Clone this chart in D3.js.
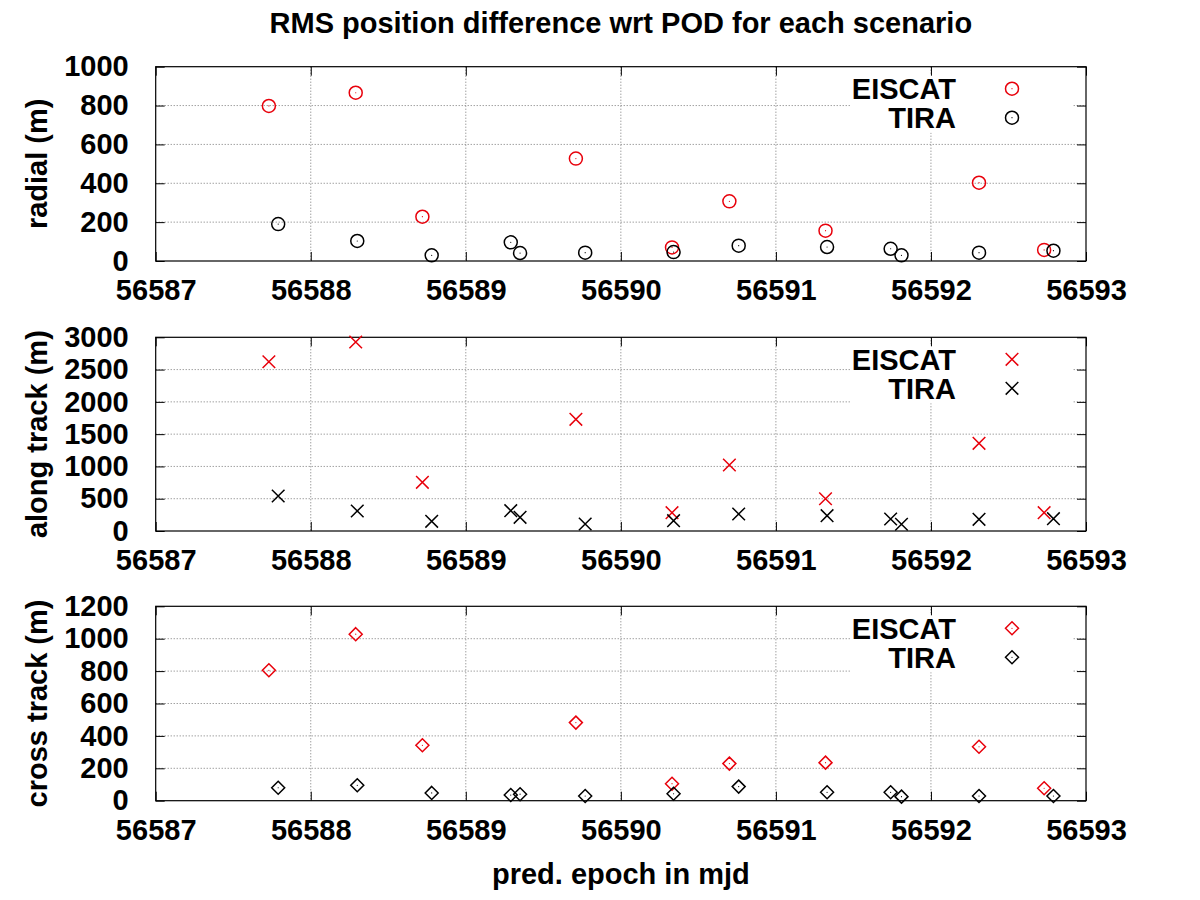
<!DOCTYPE html>
<html>
<head>
<meta charset="utf-8">
<script src="https://cdn.jsdelivr.net/npm/d3@7"></script>
<style>
	body { margin: 0; background: #fff; }
	text { font-family: "Liberation Sans", Arial, sans-serif; font-weight: bold; }
</style>
</head>
<body>
<div id="plot"></div>
<script>
// epochs (mjd) for each scenario
const mjdEiscat = [56587.73, 56588.29, 56588.72, 56589.71, 56590.33, 56590.70, 56591.32, 56592.31, 56592.73];
const mjdTira = [56587.79, 56588.30, 56588.78, 56589.29, 56589.35, 56589.77, 56590.34, 56590.76, 56591.33, 56591.74, 56591.81, 56592.31, 56592.79];

// rms differences in metres
const radialEiscat = [798, 866, 228, 527, 70, 307, 156, 403, 57];
const radialTira = [190, 103, 29, 96, 41, 43, 46, 79, 72, 63, 29, 43, 53];
const alongEiscat = [2622, 2927, 754, 1730, 284, 1022, 500, 1358, 284];
const alongTira = [542, 310, 150, 315, 212, 108, 160, 263, 237, 186, 104, 181, 191];
const crossEiscat = [805, 1028, 342, 482, 105, 229, 235, 333, 77];
const crossTira = [80, 95, 48, 35, 40, 29, 43, 87, 52, 52, 25, 29, 29];

const xTicks = [56587, 56588, 56589, 56590, 56591, 56592, 56593];
const radialTicks = [0, 200, 400, 600, 800, 1000];
const alongTicks = [0, 500, 1000, 1500, 2000, 2500, 3000];
const crossTicks = [0, 200, 400, 600, 800, 1000, 1200];

const seriesNames = ['EISCAT', 'TIRA'];
const title = 'RMS position difference wrt POD for each scenario';
const xLabel = 'pred. epoch in mjd';

const W = 1200, H = 900;
const left = 155.7, right = 1086;
const fs = 29;
const red = '#e8000b';

let svg = d3.select('#plot').append('svg')
	.attr('width', W)
	.attr('height', H);

const x = d3.scaleLinear().domain([56587, 56593]).range([left, right]);

// one panel per component
let panels = [
	{label: 'radial (m)', top: 66.7, bot: 261, ticks: radialTicks, e: radialEiscat, t: radialTira, shape: 'circle'},
	{label: 'along track (m)', top: 337.3, bot: 531, ticks: alongTicks, e: alongEiscat, t: alongTira, shape: 'cross'},
	{label: 'cross track (m)', top: 606.3, bot: 800.7, ticks: crossTicks, e: crossEiscat, t: crossTira, shape: 'diamond'}
];

function marker(g, shape, cx, cy, col) {
	if (shape == 'circle') {
		g.append('circle').attr('cx', cx).attr('cy', cy).attr('r', 6.5)
			.attr('fill', 'none').attr('stroke', col).attr('stroke-width', 1.5);
		g.append('circle').attr('cx', cx).attr('cy', cy).attr('r', 0.6).attr('fill', col);
	} else if (shape == 'cross') {
		const s = 6.3;
		g.append('path')
			.attr('d', `M${cx-s},${cy-s}L${cx+s},${cy+s}M${cx-s},${cy+s}L${cx+s},${cy-s}`)
			.attr('stroke', col).attr('stroke-width', 1.5).attr('fill', 'none');
	} else {
		const s = 6.5;
		g.append('path')
			.attr('d', `M${cx},${cy-s}L${cx+s},${cy}L${cx},${cy+s}L${cx-s},${cy}Z`)
			.attr('stroke', col).attr('stroke-width', 1.5).attr('fill', 'none');
		g.append('circle').attr('cx', cx).attr('cy', cy).attr('r', 0.6).attr('fill', col);
	}
}

panels.forEach(p => {
	const y = d3.scaleLinear().domain(d3.extent(p.ticks)).range([p.bot, p.top]);
	let g = svg.append('g');

	// grid
	g.selectAll('.gy').data(p.ticks.slice(1, -1)).enter().append('line')
		.attr('x1', left).attr('x2', right)
		.attr('y1', d => y(d)).attr('y2', d => y(d))
		.attr('stroke', '#777').attr('stroke-width', 1).attr('stroke-dasharray', '1,2');
	g.selectAll('.gx').data(xTicks.slice(1, -1)).enter().append('line')
		.attr('x1', d => x(d)).attr('x2', d => x(d))
		.attr('y1', p.top).attr('y2', p.bot)
		.attr('stroke', '#777').attr('stroke-width', 1).attr('stroke-dasharray', '1,2');

	// key box clears the grid
	const k1 = p.top + 22, k2 = p.top + 51;
	g.append('rect').attr('x', 850).attr('y', k1 - 15).attr('width', 223).attr('height', k2 - k1 + 30)
		.attr('fill', '#fff');

	// axes with inward ticks on every side
	const tl = 9;
	g.append('g').attr('transform', `translate(0,${p.bot})`)
		.call(d3.axisBottom(x).tickValues(xTicks).tickSize(-tl).tickFormat(d3.format('d')).tickPadding(18))
		.call(a => a.select('.domain').remove())
		.call(a => a.selectAll('text').attr('font-size', fs).attr('fill', '#000').attr('dy', '0.72em')
			.attr('font-family', '"Liberation Sans", Arial, sans-serif'));
	g.append('g').attr('transform', `translate(0,${p.top})`)
		.call(d3.axisTop(x).tickValues(xTicks).tickSize(-tl).tickFormat(''))
		.call(a => a.select('.domain').remove());
	g.append('g').attr('transform', `translate(${left},0)`)
		.call(d3.axisLeft(y).tickValues(p.ticks).tickSize(-tl).tickPadding(18 + tl).tickFormat(d3.format('d')))
		.call(a => a.select('.domain').remove())
		.call(a => a.selectAll('text').attr('font-size', fs).attr('fill', '#000')
			.attr('font-family', '"Liberation Sans", Arial, sans-serif'));
	g.append('g').attr('transform', `translate(${right},0)`)
		.call(d3.axisRight(y).tickValues(p.ticks).tickSize(-tl).tickFormat(''))
		.call(a => a.select('.domain').remove());
	g.selectAll('.tick line').attr('stroke', '#000');

	g.append('rect').attr('x', left).attr('y', p.top).attr('width', right - left).attr('height', p.bot - p.top)
		.attr('fill', 'none').attr('stroke', '#000').attr('stroke-width', 1.2);

	// y label
	g.append('text')
		.attr('transform', `translate(47,${(p.top + p.bot) / 2}) rotate(-90)`)
		.attr('text-anchor', 'middle')
		.attr('font-size', fs)
		.text(p.label);

	// points
	let pts = g.append('g');
	p.e.forEach((v, i) => marker(pts, p.shape, x(mjdEiscat[i]), y(v), red));
	p.t.forEach((v, i) => marker(pts, p.shape, x(mjdTira[i]), y(v), '#000'));

	// key
	[k1, k2].forEach((ky, i) => {
		g.append('text').attr('x', 956).attr('y', ky).attr('dy', '0.36em')
			.attr('text-anchor', 'end').attr('font-size', fs).text(seriesNames[i]);
		marker(g, p.shape, 1012, ky, i == 0 ? red : '#000');
	});
});

svg.append('text').attr('x', (left + right) / 2).attr('y', 33)
	.attr('text-anchor', 'middle').attr('font-size', fs).text(title);

svg.append('text').attr('x', (left + right) / 2).attr('y', 884)
	.attr('text-anchor', 'middle').attr('font-size', fs).text(xLabel);
</script>
</body>
</html>
